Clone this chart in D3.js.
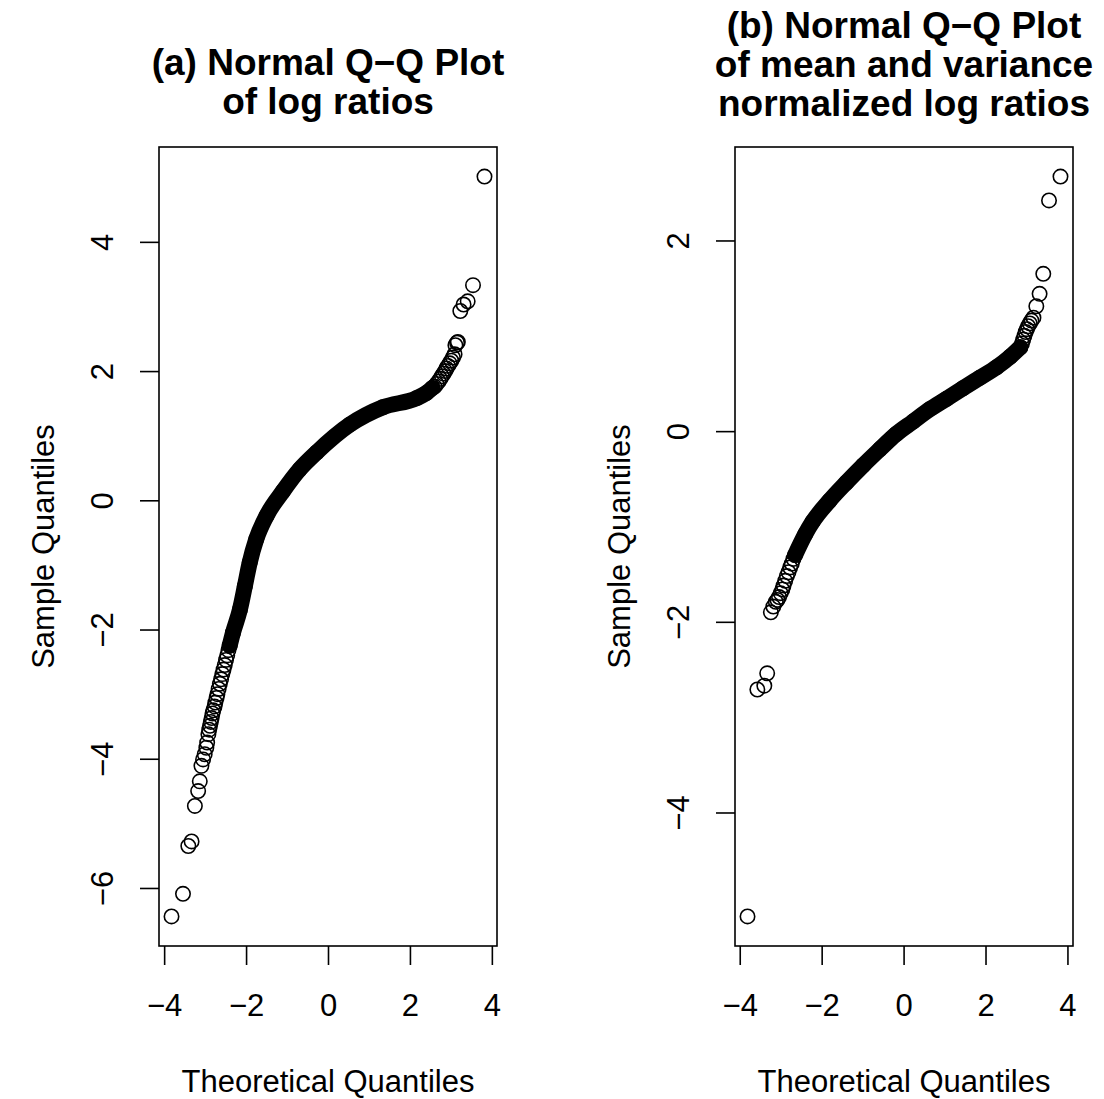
<!DOCTYPE html>
<html>
<head>
<meta charset="utf-8">
<script src="https://cdn.jsdelivr.net/npm/d3@7"></script>
<style>
  html, body { margin: 0; padding: 0; background: #ffffff; }
  svg { display: block; }
</style>
</head>
<body>
<svg id="chart" width="1104" height="1099"></svg>
<script>
// ---------------------------------------------------------------
// Panel (a): raw log ratios
// Dense body of the sample (points overlap into a solid band)
const bodyTheoA   = [-2.40, -2.32, -2.15, -2.03, -1.91, -1.75, -1.50, -1.10, -0.69, -0.28, 0.53, 1.34, 2.16, 2.40, 2.55];
const bodySampleA = [-2.25, -2.05, -1.69, -1.33, -0.96, -0.60, -0.24,  0.14,  0.48,  0.74, 1.17, 1.44, 1.58, 1.66, 1.74];
// Individually visible points in the two tails
const tailTheoA = [
  -3.82, -3.54, -3.41, -3.33, -3.25, -3.17, -3.13, -3.09, -3.05, -3.01,
  -2.97, -2.95, -2.92, -2.90, -2.88, -2.86, -2.84, -2.82, -2.80, -2.77,
  -2.75, -2.72, -2.70, -2.67, -2.64, -2.61, -2.58, -2.55, -2.52, -2.49,
  -2.46, -2.43,
   2.60,  2.65,  2.70,  2.74,  2.78,  2.82,  2.86,  2.89,  2.93,  2.97,
   3.01,  3.05,  3.09,  3.11,  3.15,  3.17,  3.23,  3.31,  3.41,  3.54,
   3.82
];
const tailSampleA = [
  -6.44, -6.09, -5.35, -5.28, -4.73, -4.50, -4.35, -4.11, -4.01, -3.93,
  -3.83, -3.75, -3.62, -3.55, -3.49, -3.43, -3.37, -3.30, -3.25, -3.19,
  -3.13, -3.06, -3.00, -2.92, -2.84, -2.77, -2.69, -2.62, -2.55, -2.47,
  -2.40, -2.32,
   1.76,  1.80,  1.84,  1.88,  1.92,  1.96,  2.00,  2.04,  2.08,  2.12,
   2.16,  2.21,  2.26,  2.40,  2.44,  2.45,  2.93,  3.03,  3.08,  3.33,
   5.01
];

// Panel (b): mean and variance normalized log ratios
const bodyTheoB   = [-2.65, -2.40, -2.22, -1.81, -1.40, -0.99, -0.58, -0.18, 0.23, 0.64, 1.05, 1.45, 1.86, 2.27, 2.60, 2.85];
const bodySampleB = [-1.30, -1.08, -0.95, -0.73, -0.54, -0.36, -0.19, -0.03, 0.10, 0.23, 0.34, 0.45, 0.56, 0.67, 0.78, 0.88];
const tailTheoB = [
  -3.81, -3.57, -3.40, -3.33, -3.24, -3.18, -3.12, -3.08, -3.04, -3.00,
  -2.96, -2.93, -2.89, -2.85, -2.81, -2.77, -2.73, -2.69,
   2.89,  2.92,  2.95,  2.98,  3.01,  3.04,  3.08,  3.12,  3.17,  3.24,
   3.32,  3.41,  3.55,  3.83
];
const tailSampleB = [
  -5.09, -2.71, -2.67, -2.54, -1.90, -1.84, -1.79, -1.77, -1.74, -1.70,
  -1.66, -1.62, -1.57, -1.52, -1.48, -1.43, -1.39, -1.34,
   0.92,  0.96,  1.00,  1.04,  1.07,  1.10,  1.13,  1.16,  1.19,  1.31,
   1.44,  1.65,  2.42,  2.67
];

// Axis tick values
const xTicks  = [-4, -2, 0, 2, 4];
const yTicksA = [-6, -4, -2, 0, 2, 4];
const yTicksB = [-4, -2, 0, 2];

// Titles and axis labels
const titleA = ["(a) Normal Q\u2212Q Plot", "of log ratios"];
const titleB = ["(b) Normal Q\u2212Q Plot", "of mean and variance", "normalized log ratios"];
const xLabel = "Theoretical Quantiles";
const yLabel = "Sample Quantiles";
// ---------------------------------------------------------------

const FONT = "'Liberation Sans', Arial, Helvetica, sans-serif";
const svg = d3.select("#chart");
svg.append("rect").attr("width", 1104).attr("height", 1099).attr("fill", "#fff");

const panels = [
  { title: titleA, titleBase: [75, 114],
    bodyX: bodyTheoA, bodyY: bodySampleA, tailX: tailTheoA, tailY: tailSampleA,
    yTicks: yTicksA, box: { left: 159, right: 497, top: 147, bottom: 946 } },
  { title: titleB, titleBase: [38, 77, 116],
    bodyX: bodyTheoB, bodyY: bodySampleB, tailX: tailTheoB, tailY: tailSampleB,
    yTicks: yTicksB, box: { left: 735, right: 1073, top: 147, bottom: 946 } }
];

// Data range widened by 4% on each side
function paddedExtent(values) {
  const [lo, hi] = d3.extent(values);
  const pad = (hi - lo) * 0.04;
  return [lo - pad, hi + pad];
}

panels.forEach(p => {
  const { left, right, top, bottom } = p.box;
  const g = svg.append("g");

  const x = d3.scaleLinear()
    .domain(paddedExtent(p.bodyX.concat(p.tailX)))
    .range([left, right]);
  const y = d3.scaleLinear()
    .domain(paddedExtent(p.bodyY.concat(p.tailY)))
    .range([bottom, top]);

  // Overlapping open circles of the dense body, drawn as one band
  const band = d3.line()
    .x(i => x(p.bodyX[i]))
    .y(i => y(p.bodyY[i]))
    .curve(d3.curveMonotoneX);
  g.append("path")
    .attr("d", band(d3.range(p.bodyX.length)))
    .attr("fill", "none")
    .attr("stroke", "#000")
    .attr("stroke-width", 16)
    .attr("stroke-linecap", "round")
    .attr("stroke-linejoin", "round");

  // Open circles for every point
  const pts = d3.range(p.bodyX.length).map(i => [p.bodyX[i], p.bodyY[i]])
    .concat(d3.range(p.tailX.length).map(i => [p.tailX[i], p.tailY[i]]));
  g.selectAll("circle.pt").data(pts).join("circle")
    .attr("class", "pt")
    .attr("cx", d => x(d[0]))
    .attr("cy", d => y(d[1]))
    .attr("r", 7.2)
    .attr("fill", "none")
    .attr("stroke", "#000")
    .attr("stroke-width", 1.6);

  // Plot frame
  g.append("rect")
    .attr("x", left).attr("y", top)
    .attr("width", right - left).attr("height", bottom - top)
    .attr("fill", "none").attr("stroke", "#000").attr("stroke-width", 1.6);

  // Bottom axis
  const gx = g.append("g")
    .attr("transform", `translate(0,${bottom})`)
    .call(d3.axisBottom(x).tickValues(xTicks).tickSize(19).tickSizeOuter(0));
  gx.select(".domain").remove();
  gx.selectAll(".tick line").attr("stroke", "#000").attr("stroke-width", 1.6);
  gx.selectAll(".tick text")
    .attr("y", 70).attr("dy", 0)
    .attr("fill", "#000")
    .style("font-family", FONT).style("font-size", "31px");

  // Left axis with labels turned parallel to the axis
  const gy = g.append("g")
    .attr("transform", `translate(${left},0)`)
    .call(d3.axisLeft(y).tickValues(p.yTicks).tickSize(19).tickSizeOuter(0));
  gy.select(".domain").remove();
  gy.selectAll(".tick line").attr("stroke", "#000").attr("stroke-width", 1.6);
  gy.selectAll(".tick text")
    .attr("x", 0).attr("y", 0).attr("dy", 0)
    .attr("text-anchor", "middle")
    .attr("transform", "translate(-46,0) rotate(-90)")
    .attr("fill", "#000")
    .style("font-family", FONT).style("font-size", "31px");

  // Axis titles
  g.append("text")
    .attr("x", (left + right) / 2).attr("y", 1092)
    .attr("text-anchor", "middle")
    .style("font-family", FONT).style("font-size", "31px")
    .text(xLabel);
  g.append("text")
    .attr("transform", `translate(${left - 105},${(top + bottom) / 2}) rotate(-90)`)
    .attr("text-anchor", "middle")
    .style("font-family", FONT).style("font-size", "31px")
    .text(yLabel);

  // Main title, one line per entry
  p.title.forEach((line, i) => {
    g.append("text")
      .attr("x", (left + right) / 2).attr("y", p.titleBase[i])
      .attr("text-anchor", "middle")
      .style("font-family", FONT).style("font-size", "37px").style("font-weight", "bold")
      .text(line);
  });
});
</script>
</body>
</html>
